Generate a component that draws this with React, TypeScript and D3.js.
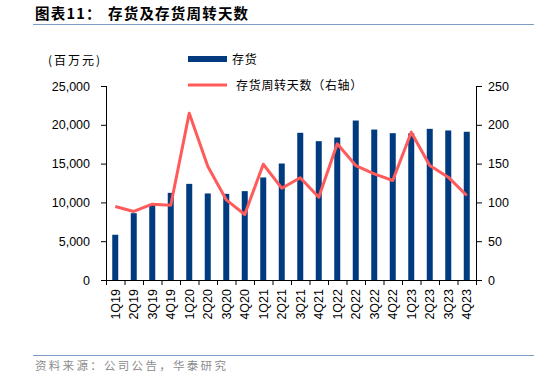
import React from "react";
import * as d3 from "d3";

const categories = ["1Q19","2Q19","3Q19","4Q19","1Q20","2Q20","3Q20","4Q20","1Q21","2Q21","3Q21","4Q21","1Q22","2Q22","3Q22","4Q22","1Q23","2Q23","3Q23","4Q23"];
const inventory = [5830,8610,9690,11230,12390,11150,11100,11450,13210,15010,18970,17890,18360,20550,19390,18920,18900,19480,19270,19100];
const turnoverDays = [94.7,88.3,97.7,96.4,215,146.7,103.3,84.4,149.2,118.3,131.7,106.7,175.5,147.5,136.8,128.2,190.5,147.5,132.5,108.9];
const leftTicks = [0,5000,10000,15000,20000,25000];
const rightTicks = [0,50,100,150,200,250];

const W = 534, H = 378;
const X0 = 106, X1 = 476, Y0 = 280, Y1 = 86;
const NAVY = "#003A7F";
const RED = "#FF5B5B";
const CJK = "'Noto Sans CJK SC', sans-serif";
const LAT = "'Liberation Sans', Arial, sans-serif";

export default function App() {
  const x = d3.scaleBand<string>().domain(categories).range([X0, X1]).padding(0);
  const yL = d3.scaleLinear().domain([0, 25000]).range([Y0, Y1]);
  const yR = d3.scaleLinear().domain([0, 250]).range([Y0, Y1]);
  const bw = 6;
  const line = d3.line<number>()
    .x((_, i) => (x(categories[i]) as number) + x.bandwidth() / 2)
    .y(d => yR(d));
  const fmt = d3.format(",");
  const bounds = categories.map(c => x(c) as number).concat([X1]);

  return (
    <svg width={W} height={H} style={{ position: "absolute", left: 0, top: 0 }}>
      <rect width={W} height={H} fill="#fff" />
      <text x={35} y={19} fontFamily={CJK} fontSize={14.5} fontWeight="bold" fill="#000" letterSpacing={1.2}>图表11：</text>
      <text x={108} y={19} fontFamily={CJK} fontSize={14.5} fontWeight="bold" fill="#000" letterSpacing={1.2}>存货及存货周转天数</text>
      <line x1={33} x2={534} y1={24.5} y2={24.5} stroke="#7F9CC4" strokeWidth={1} />

      <text x={48} y={65} fontFamily={CJK} fontSize={12} fill="#000" letterSpacing={2}>(百万元)</text>
      <rect x={188} y={56} width={39} height={6} fill={NAVY} />
      <text x={232} y={64} fontFamily={CJK} fontSize={12} fill="#000" letterSpacing={0.7}>存货</text>
      <line x1={188} x2={227} y1={85} y2={85} stroke={RED} strokeWidth={3} />
      <text x={236} y={90} fontFamily={CJK} fontSize={12} fill="#000" letterSpacing={0.7}>存货周转天数（右轴）</text>

      {categories.map((c, i) => (
        <rect key={c} x={(x(c) as number) + x.bandwidth() / 2 - bw / 2} y={yL(inventory[i])}
          width={bw} height={Y0 - yL(inventory[i])} fill={NAVY} />
      ))}
      <path d={line(turnoverDays) || ""} fill="none" stroke={RED} strokeWidth={3} strokeLinejoin="round" />

      {/* left axis */}
      <line x1={X0 + 0.5} x2={X0 + 0.5} y1={Y1} y2={Y0} stroke="#000" />
      {leftTicks.map(t => (
        <g key={t}>
          <line x1={X0 - 5} x2={X0} y1={yL(t) + 0.5} y2={yL(t) + 0.5} stroke="#000" />
          <text x={90} y={yL(t) + 4.5} textAnchor="end" fontFamily={LAT} fontSize={12.5} fill="#000">{fmt(t)}</text>
        </g>
      ))}
      {/* right axis */}
      <line x1={X1 + 0.5} x2={X1 + 0.5} y1={Y1} y2={Y0} stroke="#000" />
      {rightTicks.map(t => (
        <g key={t}>
          <line x1={X1} x2={X1 + 6} y1={yR(t) + 0.5} y2={yR(t) + 0.5} stroke="#000" />
          <text x={488} y={yR(t) + 4.5} textAnchor="start" fontFamily={LAT} fontSize={12.5} fill="#000">{t}</text>
        </g>
      ))}
      {/* x axis */}
      <line x1={X0} x2={X1 + 6} y1={Y0 + 0.5} y2={Y0 + 0.5} stroke="#000" />
      {bounds.map((b, i) => (
        <line key={i} x1={b + 0.5} x2={b + 0.5} y1={Y0} y2={Y0 + 5} stroke="#000" />
      ))}
      {categories.map(c => {
        const cx = (x(c) as number) + x.bandwidth() / 2;
        return (
          <text key={c} transform={`translate(${cx + 4.5},289) rotate(-90)`} textAnchor="end"
            fontFamily={LAT} fontSize={12.5} fill="#000">{c}</text>
        );
      })}

      <line x1={33} x2={534} y1={355.5} y2={355.5} stroke="#7F9CC4" strokeWidth={1} />
      <text x={35} y={370} fontFamily={CJK} fontSize={11.5} fill="#8C8C8C" letterSpacing={2.3}>资料来源：公司公告，华泰研究</text>
    </svg>
  );
}
